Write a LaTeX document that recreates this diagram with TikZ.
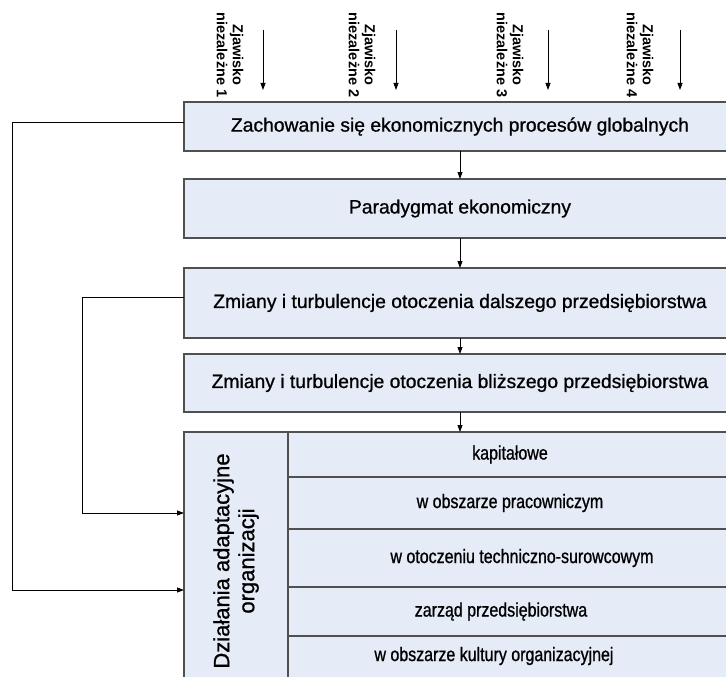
\documentclass[tikz,border=0pt]{standalone}
\usepackage{fontspec}
\setmainfont{Liberation Sans}[FakeBold=0.9, BoldFeatures={FakeBold=0}]
\newfontfamily\mainfont[FakeBold=0.9]{Liberation Sans}
\newfontfamily\rowfont[FakeStretch=0.82, FakeBold=0.9]{Liberation Sans}
\newfontfamily\labelfont{Liberation Sans Bold}
\usetikzlibrary{arrows.meta}
\definecolor{boxfill}{RGB}{229,236,248}
\definecolor{boxline}{RGB}{80,80,80}
\tikzset{
  box/.style={draw=boxline, fill=boxfill, line width=1.1pt, anchor=north west,
    inner sep=0pt, outer sep=0pt, minimum width=552pt,
    font=\mainfont\fontsize{19.3}{23}\selectfont},
  rowbox/.style={draw=boxline, fill=boxfill, line width=1.1pt, anchor=north west,
    inner sep=0pt, outer sep=0pt, minimum width=448pt},
  rowtext/.style={inner sep=0pt, font=\rowfont\fontsize{19.5}{22}\selectfont},
  toplabel/.style={rotate=-90, align=center, inner sep=0pt,
    font=\labelfont\fontsize{14.5}{16}\selectfont},
  arr/.style={-{Triangle[length=7pt,width=5pt]}, line width=0.8pt, black},
}
\begin{document}
\begin{tikzpicture}[x=1pt,y=-1pt]
\useasboundingbox (0,0) rectangle (726,677);

% boxes
\node[box, minimum height=49pt] (b1) at (184,102) {Zachowanie się ekonomicznych procesów globalnych};
\node[box, minimum height=59pt] (b2) at (184,179) {Paradygmat ekonomiczny};
\node[box, minimum height=70pt] (b3) at (184,268) {Zmiany i turbulencje otoczenia dalszego przedsiębiorstwa};
\node[box, minimum height=58pt] (b4) at (184,354) {Zmiany i turbulencje otoczenia bliższego przedsiębiorstwa};

% adaptation block
\node[draw=boxline, fill=boxfill, line width=1.1pt, anchor=north west, inner sep=0pt, outer sep=0pt,
      minimum width=104pt, minimum height=258pt] (b5) at (184,432) {};
\node[rotate=90, align=center, inner sep=0pt, font=\mainfont\fontsize{22}{25}\selectfont] (b5t) at (b5.center)
  {Działania adaptacyjne\\organizacji};
\node[rowbox, minimum height=45pt] (r1) at (288,432) {};
\node[rowbox, minimum height=52pt] (r2) at (288,477) {};
\node[rowbox, minimum height=58pt] (r3) at (288,529) {};
\node[rowbox, minimum height=49pt] (r4) at (288,587) {};
\node[rowbox, minimum height=54pt] (r5) at (288,636) {};
\node[rowtext] (t1) at ([xshift=-2pt]r1.center) {kapitałowe};
\node[rowtext] (t2) at ([xshift=-2pt]r2.center) {w obszarze pracowniczym};
\node[rowtext] (t3) at ([xshift=10pt]r3.center) {w otoczeniu techniczno-surowcowym};
\node[rowtext] (t4) at ([xshift=-11pt]r4.center) {zarząd przedsiębiorstwa};
\node[rowtext] (t5) at ([xshift=-18pt,yshift=7pt]r5.center) {w obszarze kultury organizacyjnej};

% top independent phenomena
\node[toplabel] (z1) at (230,55) {Zjawisko\\niezależne 1};
\node[toplabel] (z2) at (362,55) {Zjawisko\\niezależne 2};
\node[toplabel] (z3) at (510,55) {Zjawisko\\niezależne 3};
\node[toplabel] (z4) at (640,55) {Zjawisko\\niezależne 4};
\coordinate (a1) at (263,30); \coordinate (e1) at (263,90);
\coordinate (a2) at (396,30); \coordinate (e2) at (396,90);
\coordinate (a3) at (548,30); \coordinate (e3) at (548,90);
\coordinate (a4) at (680,30); \coordinate (e4) at (680,90);
\draw[arr] (a1) -- (e1);
\draw[arr] (a2) -- (e2);
\draw[arr] (a3) -- (e3);
\draw[arr] (a4) -- (e4);

% chain arrows
\draw[arr] (b1.south) -- (b2.north);
\draw[arr] (b2.south) -- (b3.north);
\draw[arr] (b3.south) -- (b4.north);
\draw[arr] (b4.south) -- (b4.south |- r1.north);

% feedback lines
\coordinate (c1) at (12,590);
\coordinate (c2) at (82,513);
\draw[arr] ([yshift=4pt]b1.west) -| (c1) -- (c1 -| b5.west);
\draw[arr] ([yshift=6pt]b3.west) -| (c2) -- (c2 -| b5.west);
\end{tikzpicture}
\end{document}
